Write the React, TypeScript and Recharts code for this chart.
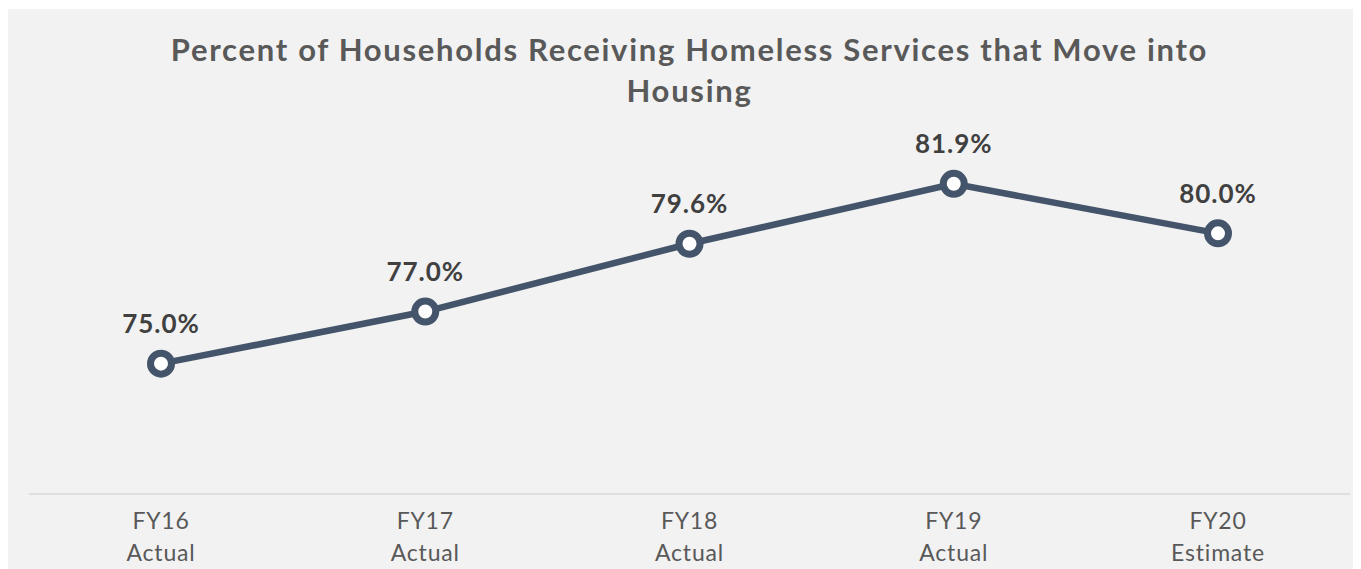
import React from "react";
import { LineChart, Line, XAxis, YAxis, LabelList } from "recharts";

const categories = ["FY16", "FY17", "FY18", "FY19", "FY20"];
const subLabels = ["Actual", "Actual", "Actual", "Actual", "Estimate"];
const values = [75.0, 77.0, 79.6, 81.9, 80.0];
const valueLabels = ["75.0%", "77.0%", "79.6%", "81.9%", "80.0%"];
const titleLines = [
  "Percent of Households Receiving Homeless Services that Move into",
  "Housing",
];

const data = categories.map((c, i) => ({
  name: c,
  sub: subLabels[i],
  value: values[i],
  label: valueLabels[i],
}));

const FONT = "Lato, 'Noto Sans', sans-serif";

const Tick = (props: any) => {
  const { x, y, payload, index } = props;
  const sub = subLabels[index] ?? data.find((d) => d.name === payload.value)?.sub;
  return (
    <g>
      <text x={x} y={y + 21} textAnchor="middle" dominantBaseline="middle" fill="#595959" fontSize={23} letterSpacing={0.8} fontFamily={FONT}>
        {payload.value}
      </text>
      <text x={x} y={y + 53} textAnchor="middle" dominantBaseline="middle" fill="#595959" fontSize={23} letterSpacing={0.8} fontFamily={FONT}>
        {sub}
      </text>
    </g>
  );
};

const ValueLabel = (props: any) => {
  const { x, y, value } = props;
  return (
    <text x={x} y={y - 37} textAnchor="middle" dominantBaseline="middle" fill="#404040" fontSize={26} letterSpacing={1} fontWeight="bold" fontFamily={FONT}>
      {value}
    </text>
  );
};

export default function App() {
  return (
    <div style={{ position: "relative", width: 1353, height: 560, marginTop: 1, background: "#f2f2f2" }}>
      <div
        style={{
          position: "absolute",
          left: 0,
          top: 20,
          width: 1363,
          textAlign: "center",
          fontFamily: FONT,
          fontWeight: "bold",
          fontSize: 31,
          letterSpacing: 1.7,
          lineHeight: "41px",
          color: "#595959",
        }}
      >
        {titleLines.map((t, i) => (
          <div key={i}>{t}</div>
        ))}
      </div>
      <LineChart width={1353} height={560} data={data} margin={{ top: 94, right: 11, left: 21, bottom: 0 }}>
        <XAxis
          dataKey="name"
          height={75}
          axisLine={{ stroke: "#d9d9d9", strokeWidth: 1.5 }}
          tickLine={false}
          padding={{ left: 132, right: 132 }}
          tick={<Tick />}
          interval={0}
        />
        <YAxis hide domain={[70, 85]} />
        <Line
          dataKey="value"
          stroke="#44546a"
          strokeWidth={6.5}
          isAnimationActive={false}
          dot={{ r: 10.5, stroke: "#44546a", strokeWidth: 7, fill: "#ffffff" }}
          activeDot={false}
        >
          <LabelList dataKey="label" content={<ValueLabel />} />
        </Line>
      </LineChart>
    </div>
  );
}
